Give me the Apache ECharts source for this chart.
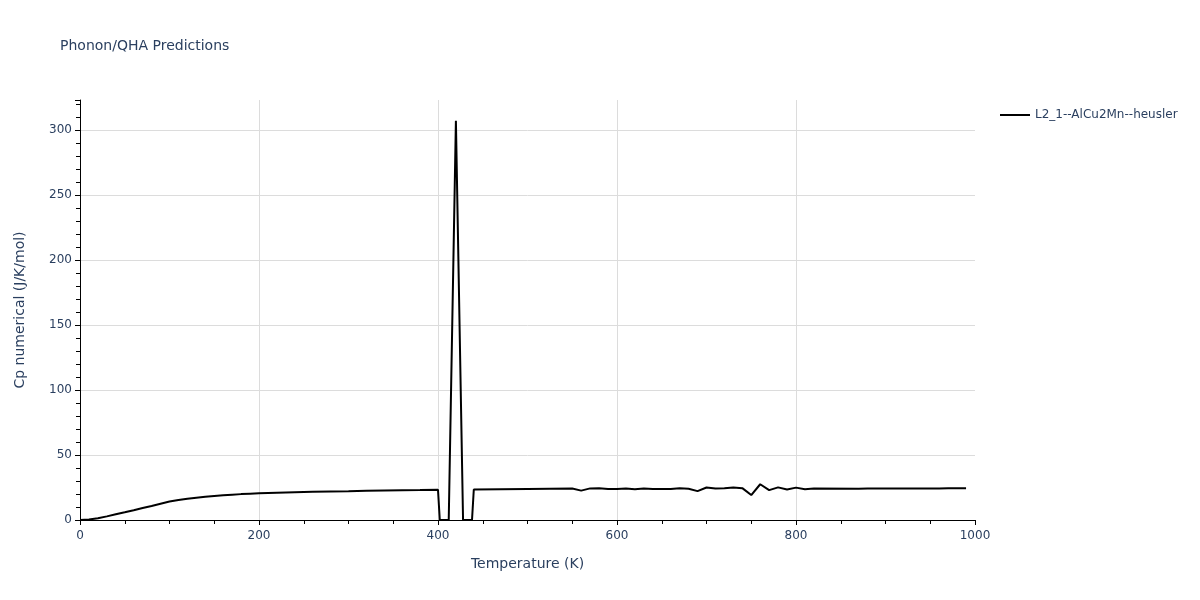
<!DOCTYPE html>
<html>
<head>
<meta charset="utf-8">
<script src="https://cdn.jsdelivr.net/npm/echarts@6/dist/echarts.min.js"></script>
<style>html,body{margin:0;padding:0;background:#fff}#c{width:1200px;height:600px}</style>
</head>
<body>
<div id="c"></div>
<script>
const seriesName = 'L2_1--AlCu2Mn--heusler';
const temperature = [0,10,20,30,40,50,60,70,80,90,100,110,120,130,140,150,160,170,180,190,200,220,240,260,280,300,320,340,360,380,400,402,412,420,428,438,440,500,550,560,570,580,590,600,610,620,630,640,650,660,670,680,690,700,710,720,730,740,750,760,770,780,790,800,810,820,870,880,960,970,990];
const cp = [0,0.4,1.3,2.8,4.4,5.9,7.5,9.2,10.8,12.5,14.2,15.4,16.4,17.2,17.9,18.5,19.0,19.5,19.9,20.2,20.5,21.0,21.4,21.7,22.0,22.2,22.5,22.7,22.9,23.0,23.2,0,0,307,0,0,23.5,23.9,24.2,22.6,24.3,24.4,23.8,23.8,24.2,23.6,24.3,23.9,23.8,23.8,24.5,24.1,22.2,25.0,24.3,24.4,25.0,24.5,19.2,27.5,23.0,25.1,23.4,24.9,23.7,24.2,24.1,24.3,24.3,24.5,24.5];
const xTitle = 'Temperature (K)';
const yTitle = 'Cp numerical (J/K/mol)';
const chartTitle = 'Phonon/QHA Predictions';

const font = '"DejaVu Sans", verdana, sans-serif';
const txt = '#2a3f5f';
const chart = echarts.init(document.getElementById('c'));
chart.setOption({
  animation: false,
  backgroundColor: '#fff',
  title: {text: chartTitle, left: 55, top: 34, textStyle: {fontFamily: font, fontSize: 14, fontWeight: 'normal', color: txt}},
  legend: {
    data: [seriesName], left: 995, top: 104, icon: 'rect', itemWidth: 30, itemHeight: 2, itemGap: 5,
    textStyle: {fontFamily: font, fontSize: 12, color: txt}
  },
  grid: {left: 80, right: 225, top: 100, bottom: 80, containLabel: false},
  xAxis: {
    type: 'value', min: 0, max: 1000, interval: 200,
    name: xTitle, nameLocation: 'middle', nameGap: 37,
    nameTextStyle: {fontFamily: font, fontSize: 14, color: txt},
    axisLine: {show: true, onZero: false, lineStyle: {color: '#000', width: 1}},
    axisTick: {show: true, length: 5, lineStyle: {color: '#000'}},
    minorTick: {show: true, splitNumber: 4, length: 4, lineStyle: {color: '#000'}},
    axisLabel: {fontFamily: font, fontSize: 12, color: txt, margin: 10, formatter: v => String(v)},
    splitLine: {show: true, showMaxLine: false, lineStyle: {color: '#dcdcdc', width: 1}}
  },
  yAxis: {
    type: 'value', min: 0, max: 323, interval: 50,
    name: yTitle, nameLocation: 'middle', nameGap: 53,
    nameTextStyle: {fontFamily: font, fontSize: 14, color: txt},
    axisLine: {show: true, onZero: false, lineStyle: {color: '#000', width: 1}},
    axisTick: {show: true, length: 5, lineStyle: {color: '#000'}},
    minorTick: {show: true, splitNumber: 5, length: 4, lineStyle: {color: '#000'}},
    axisLabel: {fontFamily: font, fontSize: 12, color: txt, margin: 8, showMaxLabel: false},
    splitLine: {show: true, showMaxLine: false, lineStyle: {color: '#dcdcdc', width: 1}}
  },
  series: [{
    name: seriesName, type: 'line', showSymbol: false, symbol: 'none',
    data: temperature.map((t, i) => [t, cp[i]]),
    lineStyle: {color: '#000', width: 2}, itemStyle: {color: '#000'}
  }]
});
</script>
</body>
</html>
